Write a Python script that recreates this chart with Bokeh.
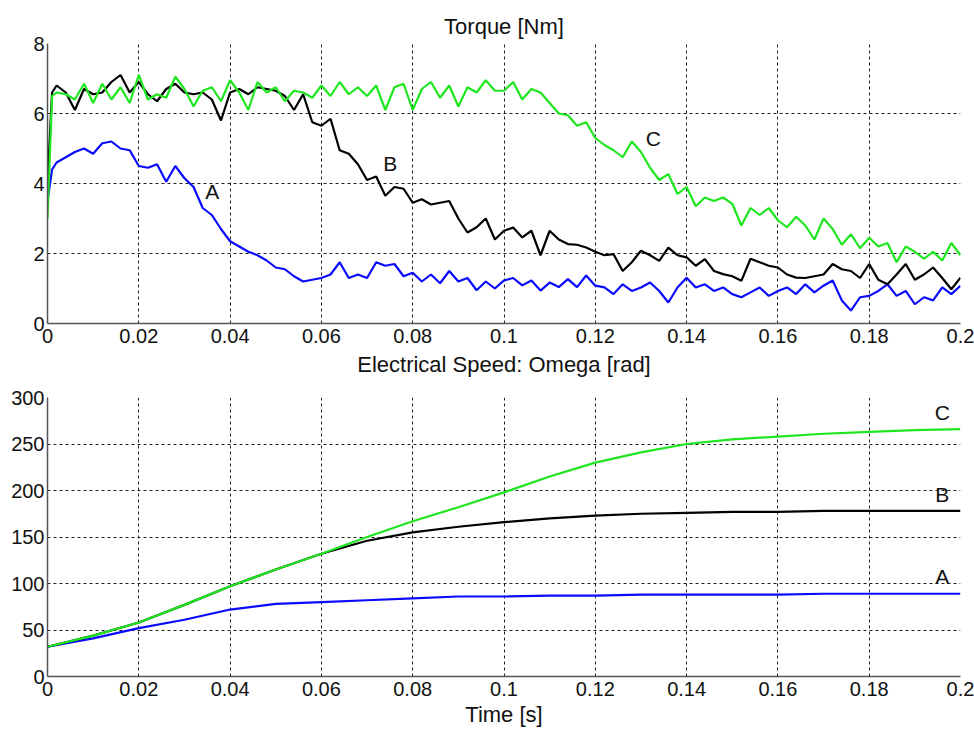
from bokeh.plotting import figure
from bokeh.layouts import column
from bokeh.models import Range1d, FixedTicker
from bokeh.core.properties import value
from bokeh.embed import file_html
from bokeh.resources import INLINE

# ---------------- data ----------------
# torque sample times [s]
t_torque = [0.0, 0.001] + [round(0.002 * k, 3) for k in range(1, 101)]

torque_A = [3.5, 4.4,
            4.6, 4.75, 4.9, 5.0, 4.85, 5.15, 5.2, 5.0, 4.95, 4.5,
            4.45, 4.55, 4.05, 4.5, 4.15, 3.9, 3.3, 3.1, 2.7, 2.35,
            2.2, 2.05, 1.95, 1.8, 1.6, 1.55, 1.35, 1.2, 1.25, 1.3,
            1.4, 1.75, 1.3, 1.4, 1.3, 1.75, 1.65, 1.7, 1.35, 1.45,
            1.2, 1.4, 1.15, 1.5, 1.2, 1.3, 0.95, 1.2, 1.0, 1.23,
            1.3, 1.09, 1.23, 0.94, 1.17, 1.04, 1.27, 1.04, 1.37, 1.08,
            1.03, 0.84, 1.12, 0.93, 1.03, 1.17, 0.93, 0.6, 1.03, 1.31,
            1.03, 1.12, 0.93, 1.03, 0.84, 0.75, 0.89, 1.03, 0.79, 0.93,
            1.03, 0.84, 1.12, 0.89, 1.08, 1.23, 0.66, 0.37, 0.75, 0.79,
            0.93, 1.12, 0.79, 0.93, 0.55, 0.75, 0.66, 1.03, 0.84, 1.08]

torque_B = [4.0, 6.6,
            6.8, 6.6, 6.1, 6.7, 6.55, 6.6, 6.9, 7.1, 6.6, 6.9,
            6.55, 6.35, 6.7, 6.85, 6.6, 6.55, 6.6, 6.4, 5.8, 6.6,
            6.7, 6.55, 6.75, 6.7, 6.65, 6.5, 6.1, 6.55, 5.75, 5.65,
            5.85, 4.95, 4.85, 4.55, 4.1, 4.2, 3.65, 3.9, 3.85, 3.45,
            3.55, 3.4, 3.45, 3.5, 3.0, 2.6, 2.75, 3.0, 2.4, 2.65,
            2.74, 2.46, 2.65, 1.95, 2.65, 2.4, 2.27, 2.25, 2.17, 2.05,
            1.95, 1.98, 1.5, 1.75, 2.08, 1.95, 1.79, 2.17, 1.95, 1.89,
            1.65, 1.84, 1.5, 1.41, 1.35, 1.22, 1.85, 1.75, 1.65, 1.6,
            1.4, 1.31, 1.3, 1.35, 1.4, 1.7, 1.55, 1.5, 1.3, 1.7,
            1.25, 1.12, 1.4, 1.7, 1.25, 1.4, 1.6, 1.3, 0.98, 1.31]

torque_C = [3.0, 6.5,
            6.6, 6.55, 6.4, 6.85, 6.3, 6.85, 6.4, 6.75, 6.3, 7.1,
            6.4, 6.55, 6.45, 7.05, 6.7, 6.2, 6.65, 6.75, 6.35, 6.95,
            6.6, 6.1, 6.9, 6.6, 6.75, 6.35, 6.65, 6.6, 6.45, 6.8,
            6.5, 6.9, 6.55, 6.75, 6.5, 6.8, 6.1, 6.75, 6.85, 6.1,
            6.7, 6.9, 6.45, 6.8, 6.2, 6.75, 6.6, 6.95, 6.65, 6.65,
            6.9, 6.4, 6.7, 6.6, 6.3, 6.0, 5.95, 5.65, 5.75, 5.3,
            5.1, 4.95, 4.75, 5.2, 4.9, 4.45, 4.1, 4.27, 3.7, 3.9,
            3.35, 3.6, 3.5, 3.6, 3.42, 2.8, 3.3, 3.1, 3.3, 2.95,
            2.75, 3.05, 2.8, 2.4, 3.0, 2.7, 2.25, 2.55, 2.15, 2.45,
            2.2, 2.3, 1.75, 2.2, 2.05, 1.85, 2.05, 1.8, 2.3, 1.95]

# speed sample times [s]
t_speed = [0.0, 0.01, 0.02, 0.03, 0.04, 0.05, 0.06, 0.07, 0.08, 0.09, 0.10,
           0.11, 0.12, 0.13, 0.14, 0.15, 0.16, 0.17, 0.18, 0.19, 0.20]
speed_A = [32, 41, 52, 61, 72, 78, 80, 82, 84, 86, 86,
           87, 87, 88, 88, 88, 88, 89, 89, 89, 89]
speed_B = [32, 44, 58, 77, 97, 115, 132, 146, 155, 161, 166,
           170, 173, 175, 176, 177, 177, 178, 178, 178, 178]
speed_C = [32, 44, 58, 77, 97, 115, 132, 150, 167, 182, 198,
           215, 230, 241, 250, 255, 258, 261, 263, 265, 266]

x_ticks = [0, 0.02, 0.04, 0.06, 0.08, 0.1, 0.12, 0.14, 0.16, 0.18, 0.2]
x_tick_labels = ["0", "0.02", "0.04", "0.06", "0.08", "0.1", "0.12", "0.14", "0.16", "0.18", "0.2"]
torque_ticks = [0, 2, 4, 6, 8]
speed_ticks = [0, 50, 100, 150, 200, 250, 300]

curve_names = ["A", "B", "C"]
curve_colors = ["#0a0aff", "#000000", "#1ee61e"]
torque_label_x = [0.0361, 0.0751, 0.1327]
torque_label_y = [3.77, 4.57, 5.29]
speed_label_x = [0.196, 0.196, 0.196]
speed_label_y = [107, 196, 284]

FONT = "Liberation Sans"


def style(p, yticks):
    p.outline_line_color = None
    p.background_fill_color = "white"
    p.border_fill_color = "white"
    p.xaxis.ticker = FixedTicker(ticks=x_ticks)
    p.xaxis.major_label_overrides = {tv: lab for tv, lab in zip(x_ticks, x_tick_labels)}
    p.yaxis.ticker = FixedTicker(ticks=yticks)
    p.yaxis.major_label_overrides = {tv: str(tv) for tv in yticks}
    for ax in (p.xaxis[0], p.yaxis[0]):
        ax.axis_line_color = "#555555"
        ax.axis_line_width = 1.5
        ax.major_tick_in = 0
        ax.major_tick_out = 0
        ax.minor_tick_line_color = None
        ax.major_label_text_font = FONT
        ax.major_label_text_font_size = "20px"
        ax.major_label_text_color = "#111111"
        ax.major_label_standoff = 3
        ax.axis_label_text_font = FONT
        ax.axis_label_text_font_size = "22px"
        ax.axis_label_text_font_style = "normal"
        ax.axis_label_text_color = "#111111"
    p.xaxis.major_label_standoff = 5
    for g in (p.xgrid[0], p.ygrid[0]):
        g.grid_line_color = "#222222"
        g.grid_line_dash = "3 3"
        g.grid_line_width = 1
    p.title.align = "center"
    p.title.text_font = FONT
    p.title.text_font_size = "22px"
    p.title.text_font_style = "normal"
    p.title.text_color = "#111111"


# ---------------- torque ----------------
p1 = figure(frame_width=913, frame_height=280, output_backend="svg",
            toolbar_location=None, title="Torque [Nm]",
            x_range=Range1d(0, 0.2), y_range=Range1d(0, 8),
            min_border_left=47, min_border_right=14, min_border_top=43,
            min_border_bottom=10)
style(p1, torque_ticks)
p1.title.standoff = 10
p1.xaxis.axis_label = "Electrical Speed: Omega [rad]"
p1.xaxis.axis_label_standoff = 6
for ys, c in zip([torque_A, torque_B, torque_C], curve_colors):
    p1.line(t_torque, ys, line_color=c, line_width=2.2)
p1.text(x=torque_label_x, y=torque_label_y, text=curve_names,
        text_font=value(FONT), text_font_size="21px", text_color="#111111",
        text_align="center", text_baseline="middle")

# ---------------- speed ----------------
p2 = figure(frame_width=913, frame_height=279, output_backend="svg",
            toolbar_location=None,
            x_range=Range1d(0, 0.2), y_range=Range1d(0, 300),
            min_border_left=47, min_border_right=14, min_border_top=18,
            min_border_bottom=10)
style(p2, speed_ticks)
p2.xaxis.axis_label = "Time [s]"
p2.xaxis.axis_label_standoff = 3
for ys, c in zip([speed_A, speed_B, speed_C], curve_colors):
    p2.line(t_speed, ys, line_color=c, line_width=2.2)
p2.text(x=speed_label_x, y=speed_label_y, text=curve_names,
        text_font=value(FONT), text_font_size="21px", text_color="#111111",
        text_align="center", text_baseline="middle")

layout = column(p1, p2, spacing=0)
open("out.html", "w").write(file_html(layout, INLINE))
